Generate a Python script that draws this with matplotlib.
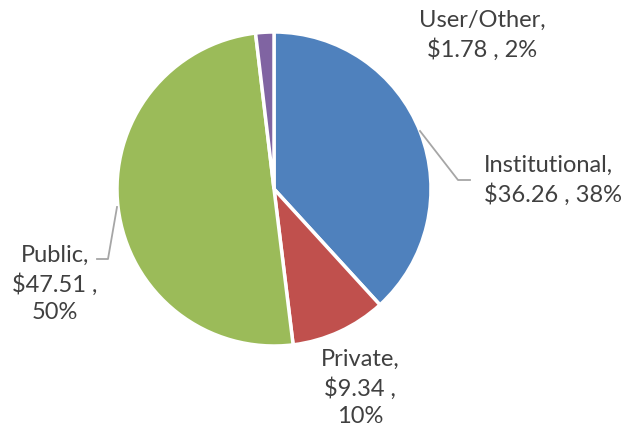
import matplotlib.pyplot as plt

categories = ["Institutional", "Private", "Public", "User/Other"]
values = [36.26, 9.34, 47.51, 1.78]
percents = ["38%", "10%", "50%", "2%"]
colors = ["#4F81BD", "#C0504D", "#9BBB59", "#8064A2"]

W, H = 633, 431
fig = plt.figure(figsize=(W / 100, H / 100), dpi=100)
ax = fig.add_axes([0, 0, 1, 1])

cx, cy, r = 274, H - 190, 157
ax.pie(values, colors=colors, startangle=90, counterclock=False,
       center=(cx, cy), radius=r, frame=True,
       wedgeprops=dict(edgecolor="white", linewidth=2.5))
ax.set_xlim(0, W)
ax.set_ylim(0, H)
ax.set_aspect("equal")
ax.axis("off")

font = dict(family=["Lato", "DejaVu Sans"], fontsize=17, color="#404040")
lab = {c: f"{c},\n${v:.2f} , {p}" for c, v, p in zip(categories, values, percents)}

def py(y):
    return H - y

ax.text(482, py(35), lab["User/Other"], ha="center", va="center", linespacing=1.4, **font)
ax.text(484, py(180), lab["Institutional"], ha="left", va="center", linespacing=1.4, **font)
ax.text(55, py(284), "Public,\n$47.51 ,\n50%", ha="center", va="center", linespacing=1.4, **font)
ax.text(360, py(388), "Private,\n$9.34 ,\n10%", ha="center", va="center", linespacing=1.4, **font)

lc = "#A6A6A6"
ax.plot([420, 458, 470], [py(132), py(181), py(181)], color=lc, lw=1.3)
ax.plot([117, 108, 97], [py(208), py(260), py(260)], color=lc, lw=1.3)

fig.savefig("out.png", dpi=100)
